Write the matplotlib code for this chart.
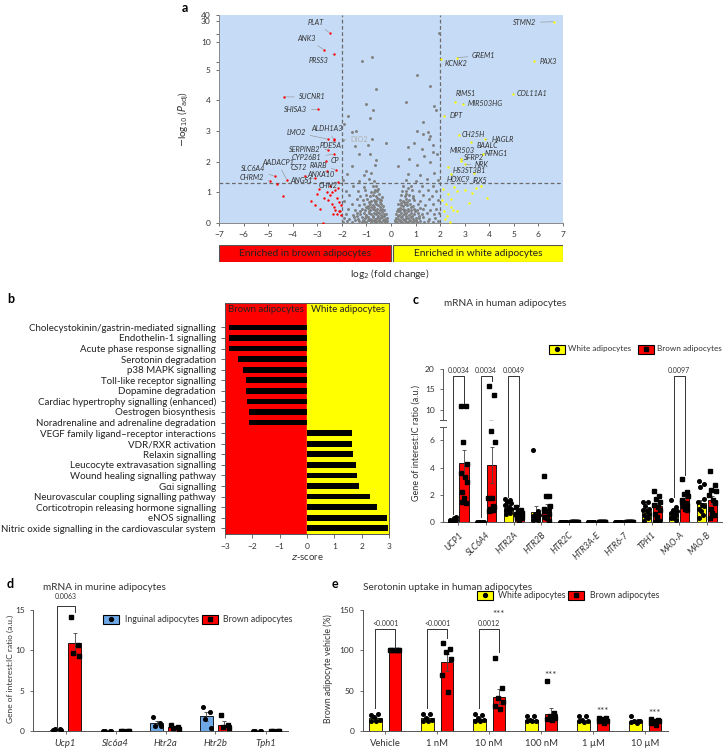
import numpy as np
import matplotlib
matplotlib.use('Agg')
import matplotlib.pyplot as plt
from matplotlib.patches import Rectangle
from matplotlib.lines import Line2D

plt.rcParams['font.family'] = ['Lato', 'DejaVu Sans']
plt.rcParams['axes.unicode_minus'] = True

W, H = 723, 749
RED = '#ff0000'
YEL = '#ffff00'
BLUE = '#6ea8e6'
TXT = '#333333'

# ---------------- panel a: volcano ----------------
brown_genes = ['PLAT', 'ANK3', 'PRSS3', 'SUCNR1', 'SHISA3', 'LMO2', 'ALDH1A3', 'PDE5A',
               'SERPINB2', 'CYP26B1', 'CP', 'RARB', 'CST2', 'ANXA10', 'ANGS1', 'CHN2',
               'SLC6A4', 'AADACP1', 'CHRM2']
brown_fc = [-2.50, -2.73, -2.30, -4.34, -2.97, -2.55, -2.33, -2.33, -2.55, -2.31, -2.64,
            -2.25, -3.50, -2.61, -3.10, -2.14, -4.72, -4.24, -4.93]
brown_p = [18.9, 8.66, 7.9, 4.11, 3.70, 2.73, 2.73, 2.70, 2.39, 2.24, 2.02, 1.74, 1.52,
           1.70, 1.47, 1.34, 1.52, 1.41, 1.37]
brown_lbl = [(-3.06, 29.0), (-3.43, 13.5), (-2.95, 6.6), (-3.22, 4.11), (-3.88, 3.70),
             (-3.86, 2.95), (-2.61, 3.08), (-2.44, 2.54), (-3.50, 2.39), (-3.43, 2.14),
             (-2.27, 2.03), (-2.95, 1.89), (-3.77, 1.80), (-2.86, 1.59), (-3.65, 1.38),
             (-2.54, 1.21), (-5.63, 1.77), (-4.61, 1.98), (-5.67, 1.47)]
brown_other_fc = [-4.63, -4.38, -2.93, -3.25, -3.09, -2.88, -2.78, -2.72, -2.56, -2.48, -2.41,
                  -2.34, -2.27, -2.20, -2.12, -2.10, -2.41, -2.61, -2.27, -2.20, -2.08, -3.0,
                  -2.05, -2.15, -2.5, -2.35, -2.02]
brown_other_p = [1.28, 0.87, 1.12, 0.71, 0.58, 0.47, 0.01, 0.83, 0.74, 0.90, 0.63, 0.52, 0.41,
                 0.28, 0.39, 0.68, 1.0, 1.01, 1.06, 0.8, 0.4, 0.95, 0.25, 1.15, 1.2, 0.3, 0.6]

white_genes = ['STMN2', 'GREM1', 'KCNK2', 'PAX3', 'RIMS1', 'MIR503HG', 'COL11A1', 'DPT',
               'CH25H', 'HAGLR', 'BAALC', 'MIR503', 'NTNG1', 'SFRP2', 'NRK', 'HS3ST3B1',
               'HOXC9', 'IRX5']
white_fc = [6.64, 2.67, 2.04, 5.82, 2.60, 2.94, 4.97, 2.15, 2.76, 3.82, 3.26, 2.83, 3.76,
            2.86, 3.00, 2.31, 2.45, 3.37]
white_p = [29.4, 7.2, 7.0, 6.52, 3.95, 3.89, 4.21, 3.50, 2.88, 2.73, 2.63, 2.07, 2.26, 2.03,
           1.91, 1.83, 1.59, 1.63]
white_lbl = [(5.44, 28.7), (3.78, 7.56), (2.63, 6.1), (6.39, 6.52), (3.03, 4.21),
             (3.85, 3.89), (5.73, 4.21), (2.65, 3.50), (3.35, 2.88), (4.54, 2.73),
             (3.92, 2.54), (2.91, 2.37), (4.30, 2.26), (3.36, 2.15), (3.70, 1.92),
             (3.20, 1.71), (2.73, 1.42), (3.64, 1.40)]
white_other_fc = [2.12, 2.31, 2.56, 2.67, 3.03, 3.31, 3.44, 3.65, 3.92, 3.17, 2.45, 2.45, 2.53,
                  2.67, 2.15, 2.18, 2.26, 2.42, 2.08, 2.22]
white_other_p = [1.10, 0.93, 1.17, 1.04, 1.09, 0.99, 1.14, 1.20, 0.83, 0.65, 0.78, 0.52, 0.43,
                 0.39, 0.39, 0.14, 0.22, 0.03, 0.76, 0.61]

dio2_fc, dio2_p = -1.95, 2.72

grey_pts = [
    (-1.95, 0.04), (-1.8, 0.08), (-1.6, 0.03), (-1.45, 0.09), (-1.3, 0.05), (-1.2, 0.02),
    (-1.1, 0.07), (-1.0, 0.04), (-0.9, 0.09), (-0.8, 0.03), (-0.7, 0.06), (-0.6, 0.02),
    (-0.5, 0.08), (-0.4, 0.04), (-0.3, 0.07), (-0.2, 0.03), (-0.15, 0.06),
    (-1.9, 0.17), (-1.7, 0.14), (-1.5, 0.19), (-1.35, 0.13), (-1.2, 0.18), (-1.05, 0.15),
    (-0.95, 0.2), (-0.85, 0.14), (-0.75, 0.18), (-0.65, 0.13), (-0.55, 0.17), (-0.45, 0.15),
    (-0.35, 0.19), (-0.25, 0.14), (-0.18, 0.16),
    (-1.85, 0.3), (-1.55, 0.27), (-1.4, 0.33), (-1.25, 0.29), (-1.1, 0.31), (-1.0, 0.27),
    (-0.9, 0.33), (-0.8, 0.28), (-0.7, 0.32), (-0.6, 0.29), (-0.5, 0.31), (-0.4, 0.27),
    (-0.3, 0.3), (-0.22, 0.28),
    (-1.75, 0.47), (-1.45, 0.43), (-1.2, 0.46), (-1.05, 0.42), (-0.95, 0.48), (-0.85, 0.44),
    (-0.75, 0.47), (-0.65, 0.43), (-0.55, 0.46), (-0.45, 0.44), (-0.35, 0.47), (-0.28, 0.42),
    (-1.6, 0.62), (-1.3, 0.58), (-1.1, 0.61), (-0.95, 0.57), (-0.85, 0.63), (-0.72, 0.59),
    (-0.62, 0.62), (-0.52, 0.58), (-0.42, 0.61), (-0.32, 0.57),
    (-1.9, 0.73), (-1.4, 0.77), (-1.15, 0.74), (-0.98, 0.78), (-0.82, 0.73), (-0.7, 0.76),
    (-0.6, 0.72), (-0.5, 0.77), (-0.4, 0.74),
    (-1.7, 0.9), (-1.25, 0.88), (-1.0, 0.92), (-0.85, 0.87), (-0.72, 0.91), (-0.6, 0.89),
    (-0.48, 0.93),
    (-1.85, 1.05), (-1.35, 1.03), (-1.05, 1.07), (-0.8, 1.02), (-0.65, 1.06), (-0.55, 1.04),
    (-1.55, 1.2), (-1.1, 1.18), (-0.75, 1.22), (-0.6, 1.19),
    (-1.95, 1.4), (-1.3, 1.38), (-0.9, 1.42), (-0.7, 1.37),
    (-1.8, 1.6), (-1.1, 1.58), (-0.8, 1.63),
    (-1.15, 0.1), (-1.02, 0.23), (-0.92, 0.09), (-0.88, 0.38), (-0.78, 0.1), (-0.73, 0.24),
    (-0.68, 0.52), (-0.63, 0.08), (-0.58, 0.37), (-0.53, 0.22), (-0.48, 0.1), (-0.43, 0.53),
    (-0.38, 0.35), (-0.33, 0.1), (-0.27, 0.22), (-0.24, 0.05), (-0.8, 0.53), (-0.9, 0.68),
    (-0.67, 0.68), (-0.57, 0.82), (-0.45, 0.68), (-0.37, 0.85), (-1.0, 0.52), (-1.25, 0.4),
    (-1.38, 0.22), (-0.7, 1.0), (-0.52, 1.12),
    (-1.6, 1.85), (-1.0, 1.7), (-0.65, 1.9), (-1.3, 2.25), (-0.87, 2.24), (-0.6, 2.05),
    (-1.45, 2.5), (-0.95, 2.55), (-0.2, 2.6), (-0.78, 2.75), (-1.41, 3.0), (-1.59, 2.97),
    (-1.93, 3.24), (-1.77, 3.48), (-0.87, 3.43), (-0.73, 3.67), (-1.0, 3.89), (-0.6, 4.36),
    (-1.16, 6.5), (-0.78, 7.3),
    (0.15, 0.05), (0.25, 0.02), (0.35, 0.07), (0.45, 0.03), (0.55, 0.08), (0.65, 0.04),
    (0.75, 0.06), (0.85, 0.02), (0.95, 0.07), (1.05, 0.04), (1.2, 0.08), (1.35, 0.03),
    (1.5, 0.06), (1.7, 0.04), (1.9, 0.07),
    (0.2, 0.17), (0.3, 0.14), (0.4, 0.18), (0.5, 0.13), (0.6, 0.17), (0.7, 0.15), (0.8, 0.19),
    (0.9, 0.14), (1.0, 0.17), (1.15, 0.15), (1.3, 0.18), (1.55, 0.14), (1.8, 0.16),
    (0.22, 0.3), (0.32, 0.27), (0.42, 0.32), (0.52, 0.28), (0.62, 0.31), (0.72, 0.27),
    (0.82, 0.33), (0.95, 0.29), (1.1, 0.31), (1.25, 0.28), (1.45, 0.32), (1.75, 0.29),
    (1.95, 0.31),
    (0.28, 0.46), (0.38, 0.43), (0.48, 0.47), (0.58, 0.44), (0.68, 0.46), (0.8, 0.42),
    (0.92, 0.47), (1.05, 0.44), (1.3, 0.46), (1.6, 0.43), (1.85, 0.47),
    (0.3, 0.61), (0.42, 0.58), (0.55, 0.62), (0.65, 0.59), (0.78, 0.61), (0.9, 0.57),
    (1.1, 0.62), (1.4, 0.58), (1.7, 0.61),
    (0.35, 0.76), (0.48, 0.73), (0.6, 0.77), (0.75, 0.74), (0.95, 0.76), (1.2, 0.73),
    (1.55, 0.77), (1.9, 0.74),
    (0.4, 0.9), (0.55, 0.88), (0.72, 0.92), (0.9, 0.89), (1.3, 0.91), (1.65, 0.88),
    (0.45, 1.05), (0.62, 1.03), (0.85, 1.07), (1.15, 1.04), (1.5, 1.06), (1.85, 1.03),
    (0.5, 1.2), (0.8, 1.22), (1.25, 1.19), (1.7, 1.21),
    (0.6, 1.4), (1.0, 1.38), (1.45, 1.42), (1.9, 1.39),
    (0.7, 1.6), (1.2, 1.58), (1.75, 1.62),
    (0.18, 0.1), (0.27, 0.23), (0.33, 0.38), (0.37, 0.1), (0.43, 0.24), (0.47, 0.55),
    (0.53, 0.38), (0.57, 0.1), (0.63, 0.24), (0.67, 0.68), (0.7, 0.38), (0.77, 0.1),
    (0.83, 0.52), (0.87, 0.24), (0.97, 0.4), (1.02, 0.1), (1.12, 0.23), (1.2, 0.5),
    (0.52, 0.7), (0.42, 0.65), (0.6, 0.95), (0.35, 0.5), (0.25, 0.4), (0.88, 0.8), (0.7, 1.15),
    (0.3, 1.85), (1.05, 1.9), (1.6, 2.0), (0.75, 2.1), (1.35, 2.2), (0.68, 2.48), (1.25, 2.4),
    (1.7, 2.3), (1.88, 2.25), (0.95, 2.6), (1.55, 2.75), (1.06, 3.0), (1.3, 2.9), (1.5, 2.95),
    (1.6, 2.85), (1.72, 2.55), (0.61, 3.95), (1.77, 3.8), (1.85, 3.67), (1.06, 4.84),
    (1.6, 4.46), (1.95, 19.0), (1.3, 3.3),
]

# ---------------- panel b: pathways ----------------
b_pathways = ['Cholecystokinin/gastrin-mediated signalling', 'Endothelin-1 signalling',
              'Acute phase response signalling', 'Serotonin degradation', 'p38 MAPK signalling',
              'Toll-like receptor signalling', 'Dopamine degradation',
              'Cardiac hypertrophy signalling (enhanced)', 'Oestrogen biosynthesis',
              'Noradrenaline and adrenaline degradation', 'VEGF family ligand\u2013receptor interactions',
              'VDR/RXR activation', 'Relaxin signalling', 'Leucocyte extravasation signalling',
              'Wound healing signalling pathway', 'G\u03b1i signalling',
              'Neurovascular coupling signalling pathway', 'Corticotropin releasing hormone signalling',
              'eNOS signalling', 'Nitric oxide signalling in the cardiovascular system']
b_z = [-2.84, -2.84, -2.84, -2.51, -2.35, -2.24, -2.24, -2.18, -2.14, -2.14,
       1.65, 1.65, 1.69, 1.81, 1.84, 1.92, 2.30, 2.55, 2.92, 2.98]

# ---------------- panel c: human mRNA ----------------
c_genes = ['UCP1', 'SLC6A4', 'HTR2A', 'HTR2B', 'HTR2C', 'HTR3A-E', 'HTR6-7', 'TPH1', 'MAO-A', 'MAO-B']
c_white_mean = [0.12, 0.02, 1.02, 0.73, 0.02, 0.02, 0.02, 0.83, 0.58, 1.39]
c_white_sem = [0.04, 0.005, 0.12, 0.45, 0.0, 0.0, 0.0, 0.15, 0.13, 0.27]
c_brown_mean = [4.35, 4.2, 0.46, 1.05, 0.02, 0.02, 0.02, 1.2, 1.75, 1.63]
c_brown_sem = [0.95, 1.35, 0.09, 0.3, 0.0, 0.0, 0.0, 0.22, 0.21, 0.3]
c_white_pts = [
    [0.05, 0.1, 0.1, 0.15, 0.2, 0.3, 0.4, 0.05, 0.1, 0.08, 0.12],
    [0.02, 0.02, 0.02, 0.02, 0.02, 0.02, 0.02, 0.02, 0.02, 0.02, 0.02],
    [1.7, 1.6, 1.5, 1.4, 1.3, 1.1, 1.0, 0.9, 0.8, 0.7, 0.6],
    [5.3, 0.8, 0.6, 0.5, 0.45, 0.4, 0.35, 0.3, 0.25, 0.2, 0.15],
    [0.02] * 11, [0.02] * 11, [0.02] * 11,
    [1.5, 1.5, 1.2, 1.0, 0.9, 0.8, 0.6, 0.5, 0.4, 0.3, 0.1],
    [1.6, 1.1, 0.9, 0.8, 0.7, 0.6, 0.5, 0.4, 0.3, 0.2, 0.3],
    [3.0, 2.8, 2.6, 1.7, 1.5, 1.3, 1.2, 1.0, 0.8, 0.5, 0.3],
]
c_brown_pts = [
    [11.0, 11.0, 5.9, 4.3, 3.63, 3.34, 2.97, 2.24, 1.75, 1.43, 1.45],
    [15.9, 13.7, 6.68, 5.85, 1.8, 1.8, 1.1, 1.0, 0.9, 0.9, 0.8, 1.2],
    [1.1, 0.9, 0.8, 0.7, 0.6, 0.5, 0.4, 0.3, 0.2, 0.3, 0.4],
    [3.4, 1.9, 1.9, 1.2, 1.0, 0.8, 0.6, 0.4, 0.3, 0.1, 0.8],
    [0.02] * 11, [0.02] * 11, [0.02] * 11,
    [2.3, 1.9, 1.7, 1.5, 1.3, 1.1, 0.9, 0.6, 0.4, 0.1, 0.0],
    [3.2, 2.2, 2.1, 1.9, 1.6, 1.4, 1.3, 1.2, 1.0, 0.9, 1.5],
    [3.75, 2.7, 2.4, 2.3, 2.0, 1.6, 1.4, 1.0, 0.7, 0.5, 0.3],
]
c_sig = [(0, '0.0034', 0.6, 11.7), (1, '0.0034', 0.4, 17.0), (2, '0.0049', 1.85, 1.2),
         (8, '0.0097', 1.85, 3.5)]
c_sig_top = 18.2

# ---------------- panel d: murine mRNA ----------------
d_genes = ['Ucp1', 'Slc6a4', 'Htr2a', 'Htr2b', 'Tph1']
d_ing_mean = [0.15, 0.02, 1.0, 1.8, 0.02]
d_ing_sem = [0.03, 0.0, 0.3, 0.6, 0.0]
d_brown_mean = [10.9, 0.02, 0.5, 0.8, 0.02]
d_brown_sem = [1.2, 0.0, 0.1, 0.4, 0.0]
d_ing_pts = [[0.1, 0.2, 0.2, 0.15], [0.02] * 4, [1.7, 1.0, 0.6, 0.6], [3.0, 2.4, 1.5, 0.4], [0.02] * 4]
d_brown_pts = [[14.1, 10.7, 9.7, 9.3], [0.02] * 4, [0.7, 0.5, 0.4, 0.3], [2.0, 0.8, 0.5, 0.4], [0.02] * 4]

# ---------------- panel e: serotonin uptake ----------------
e_doses = ['Vehicle', '1 nM', '10 nM', '100 nM', '1 \u00b5M', '10 \u00b5M']
e_white_mean = [15.5, 15.5, 14.9, 13.6, 12.5, 11.5]
e_white_sem = [1.5, 1.5, 1.5, 1.2, 1.1, 1.2]
e_brown_mean = [100, 85, 42.5, 21, 13, 11]
e_brown_sem = [0.5, 10, 9, 8, 1.2, 1.2]
e_white_pts = [[20, 21, 17, 14, 12, 13], [21, 21, 16, 14, 13, 13], [21, 20, 16, 14, 12, 13],
               [19, 19, 14, 13, 13, 12], [18, 18, 14, 13, 12, 11], [18, 13, 12, 12, 11, 10]]
e_brown_pts = [[100, 100, 100, 100, 100, 100], [108.6, 101.2, 97.5, 88.8, 69.4, 47.9],
               [90.8, 53.7, 40.5, 36.3, 31, 26.8], [62.3, 21.9, 18.6, 16, 15, 14],
               [16, 16, 15, 13, 12, 10], [15, 14, 13, 12, 10, 8]]
e_sig = [(0, '<0.0001', 28, 103), (1, '<0.0001', 28, 115), (2, '0.0012', 28, 98)]
e_sig_top = 127
e_stars = [(2, 145), (3, 69), (4, 24), (5, 22)]

jit = [-0.3, 0.25, -0.1, 0.35, -0.35, 0.1, 0.3, -0.2, 0.0, 0.2, -0.25, 0.15]

fig = plt.figure(figsize=(W / 100, H / 100), dpi=100)


def fax(l, t, r, b):
    return fig.add_axes([l / W, 1 - b / H, (r - l) / W, (b - t) / H])


def to_fig(ax, x, y):
    return fig.transFigure.inverted().transform(ax.transData.transform((x, y)))


def style(ax, size=6):
    for s in ['top', 'right']:
        ax.spines[s].set_visible(False)
    for s in ['left', 'bottom']:
        ax.spines[s].set_color('#555555')
        ax.spines[s].set_linewidth(0.7)
    ax.tick_params(labelsize=size, colors='#555555', labelcolor=TXT, length=2.5, width=0.6)


def bracket(pts, text, tx, ty):
    xs = [p[0] for p in pts]
    ys = [p[1] for p in pts]
    fig.lines.append(Line2D(xs, ys, color='#333333', lw=0.7, transform=fig.transFigure))
    fig.text(tx, ty, text, fontsize=5, color=TXT, ha='center', va='bottom')


def grouped(ax, xs, means, sems, pts, color, marker, off, width):
    ax.bar(xs + off, means, width, color=color, edgecolor='black', lw=0.6, zorder=2)
    ax.errorbar(xs + off, means, yerr=sems, fmt='none', ecolor='#444444', elinewidth=0.6,
                capsize=1.5, capthick=0.6, zorder=3)
    for i, vals in enumerate(pts):
        jx = xs[i] + off + np.array(jit[:len(vals)]) * width
        ax.plot(jx, vals, ls='none', marker=marker, ms=2.6, color='black', zorder=4)


def legend_row(y, entries, size=6.3):
    for fill, marker, text, bl, tl in entries:
        fig.patches.append(Rectangle((bl / W, 1 - (y + 4.5) / H), 16 / W, 9 / H,
                                     facecolor=fill, edgecolor='black', lw=0.8,
                                     transform=fig.transFigure))
        fig.lines.append(Line2D([(bl + 8) / W], [1 - y / H], marker=marker, ms=2.8,
                                color='black', ls='none', transform=fig.transFigure))
        fig.text(tl / W, 1 - y / H, text, fontsize=size, color=TXT, va='center', ha='left')


# ===== panel a =====
a_in = [0, 5, 10, 30, 40]
a_out = [0, 5, 5.89, 6.58, 6.78]


def a_fwd(y):
    y = np.asarray(y, float)
    t = np.interp(y, a_in, a_out)
    t = np.where(y < 0, y, t)
    return np.where(y > 40, 6.78 + (y - 40) * 0.02, t)


def a_inv(t):
    t = np.asarray(t, float)
    y = np.interp(t, a_out, a_in)
    y = np.where(t < 0, t, y)
    return np.where(t > 6.78, 40 + (t - 6.78) / 0.02, y)


axa = fax(219, 15, 563, 223)
axa.set_yscale('function', functions=(a_fwd, a_inv))
axa.set_xlim(-7, 7)
axa.set_ylim(0, 40)
axa.set_facecolor('#c6dcf6')
style(axa, 6)
axa.spines['bottom'].set_color('#888888')
axa.spines['left'].set_color('#888888')
axa.set_xticks(range(-7, 8))
axa.set_yticks([0, 1, 2, 3, 4, 5, 10, 30, 40])
axa.set_yticklabels(['0', '1', '2', '3', '4', '5', '10', '30', '40'])
axa.set_yticks([6.4, 18.25], minor=True)
axa.tick_params(which='minor', length=2.5, width=0.6, colors='#555555')
gp = np.array(grey_pts)
axa.scatter(gp[:, 0], gp[:, 1], s=4.5, color='#808080', lw=0, zorder=2)
axa.scatter([dio2_fc], [dio2_p], s=3, color='#808080', lw=0, zorder=2)
axa.scatter(brown_other_fc, brown_other_p, s=3, color=RED, lw=0, zorder=3)
axa.scatter(brown_fc, brown_p, s=3, color=RED, lw=0, zorder=3)
axa.scatter(white_other_fc, white_other_p, s=3, color=YEL, lw=0, zorder=3)
axa.scatter(white_fc, white_p, s=3, color=YEL, lw=0, zorder=3)
for v in (-2, 2):
    axa.axvline(v, color='#6a6a6a', lw=0.9, dashes=(3, 2), zorder=1)
axa.axhline(1.3, color='#6a6a6a', lw=0.9, dashes=(3, 2), zorder=1)
for g, x, y, lp in list(zip(brown_genes, brown_fc, brown_p, brown_lbl)) + \
        list(zip(white_genes, white_fc, white_p, white_lbl)):
    axa.annotate(g, xy=(x, y), xytext=lp, fontsize=5.2, style='italic', color=TXT,
                 ha='center', va='center',
                 arrowprops=dict(arrowstyle='-', color='#8a8a8a', lw=0.4,
                                 shrinkA=1, shrinkB=0.5))
axa.annotate('DIO2', xy=(dio2_fc, dio2_p), xytext=(-1.28, 2.72), fontsize=5.2, color='#b0b0b0',
             ha='center', va='center',
             arrowprops=dict(arrowstyle='-', color='#b0b0b0', lw=0.4, shrinkA=1, shrinkB=0.5))
axa.set_ylabel(r'$-$log$_{10}$ ($P_{\rm adj}$)', fontsize=7, color=TXT, labelpad=7)

axab = fax(219, 245, 563, 262)
axab.set_xlim(-7, 7)
axab.set_ylim(0, 1)
axab.axis('off')
axab.add_patch(Rectangle((-7, 0), 7, 1, facecolor=RED, edgecolor='#555555', lw=0.8))
axab.add_patch(Rectangle((0.1, 0), 6.9, 1, facecolor=YEL, edgecolor='#555555', lw=0.8))
axab.text(-3.5, 0.5, 'Enriched in brown adipocytes', ha='center', va='center', fontsize=7.3, color='#222')
axab.text(3.55, 0.5, 'Enriched in white adipocytes', ha='center', va='center', fontsize=7.3, color='#222')
fig.text(390 / W, 1 - 274 / H, r'log$_2$ (fold change)', ha='center', va='center', fontsize=7.3, color=TXT)

# ===== panel b =====
axb = fax(225, 303, 389, 534)
axb.axvspan(-3, 0, color=RED, zorder=0)
axb.axvspan(0, 3, color=YEL, zorder=0)
yb = np.arange(len(b_pathways))
axb.barh(yb, b_z, height=0.55, color='black', zorder=2)
axb.set_xlim(-3, 3)
axb.set_ylim(19.54, -2.31)
axb.set_yticks(yb)
axb.set_yticklabels(b_pathways)
axb.set_xticks(range(-3, 4))
for s in axb.spines.values():
    s.set_color('#555555')
    s.set_linewidth(0.7)
axb.tick_params(labelsize=7.0, colors='#555555', labelcolor='#222222', length=3, width=0.6)
axb.tick_params(axis='x', labelsize=6, labelcolor=TXT)
axb.text(-1.5, -1.68, 'Brown adipocytes', ha='center', va='center', fontsize=6.9, color='#222')
axb.text(1.5, -1.68, 'White adipocytes', ha='center', va='center', fontsize=6.9, color='#222')
axb.set_xlabel(r'$\it{z}$-score', fontsize=6.8, color=TXT, labelpad=2)

# ===== panel c =====
xc = np.arange(len(c_genes))
axcu = fax(443, 369, 722, 420)
axcl = fax(443, 426.7, 722, 522.3)
for ax in (axcu, axcl):
    style(ax, 6)
    ax.set_xlim(-0.56, 9.55)
    grouped(ax, xc, c_white_mean, c_white_sem, c_white_pts, YEL, 'o', -0.2, 0.33)
    grouped(ax, xc, c_brown_mean, c_brown_sem, c_brown_pts, RED, 's', 0.2, 0.33)
axcu.set_ylim(7.5, 20)
axcu.set_yticks([10, 15, 20])
axcu.spines['bottom'].set_visible(False)
axcu.tick_params(axis='x', bottom=False, labelbottom=False)
axcl.set_ylim(0, 7)
axcl.set_yticks([0, 2, 4, 6])
axcl.set_xticks(xc)
axcl.set_xticklabels(c_genes, rotation=45, ha='right', rotation_mode='anchor', style='italic', fontsize=6.3)
axcu.plot([-0.012, 0.012], [0, 0], transform=axcu.transAxes, color='#555555', lw=0.7, clip_on=False)
axcl.plot([-0.012, 0.012], [1, 1], transform=axcl.transAxes, color='#555555', lw=0.7, clip_on=False)
fig.text(416 / W, 1 - 443 / H, 'Gene of interest:IC ratio (a.u.)', rotation=90, ha='center',
         va='center', fontsize=6.5, color=TXT)


def cpt(x, v):
    return to_fig(axcu if v > 7.25 else axcl, x, v)


for i, txt, yl, yr in c_sig:
    p = [cpt(i - 0.2, yl), cpt(i - 0.2, c_sig_top), cpt(i + 0.2, c_sig_top), cpt(i + 0.2, yr)]
    t = cpt(i, c_sig_top + 0.5)
    bracket(p, txt, t[0], t[1])

legend_row(349, [(YEL, 'o', 'White adipocytes', 549, 568), (RED, 's', 'Brown adipocytes', 638, 657)], 5.9)

# ===== panel d =====
xd = np.arange(len(d_genes))
axd = fax(33, 610, 288, 731)
style(axd, 6)
axd.set_xlim(-0.65, 4.45)
axd.set_ylim(0, 15)
axd.set_yticks([0, 5, 10, 15])
grouped(axd, xd, d_ing_mean, d_ing_sem, d_ing_pts, BLUE, 'o', -0.18, 0.25)
grouped(axd, xd, d_brown_mean, d_brown_sem, d_brown_pts, RED, 's', 0.18, 0.25)
axd.set_xticks(xd)
axd.set_xticklabels(d_genes, style='italic', fontsize=6.8)
p = [to_fig(axd, -0.18, 0.5), to_fig(axd, -0.18, 15.5), to_fig(axd, 0.18, 15.5), to_fig(axd, 0.18, 14.7)]
t = to_fig(axd, 0, 16.2)
bracket(p, '0.0063', t[0], t[1])
fig.text(10 / W, 1 - 669 / H, 'Gene of interest:IC ratio (a.u.)', rotation=90, ha='center',
         va='center', fontsize=6.0, color=TXT)
legend_row(619, [(BLUE, 'o', 'Inguinal adipocytes', 103, 125), (RED, 's', 'Brown adipocytes', 202, 223)])

# ===== panel e =====
xe = np.arange(len(e_doses))
axe = fax(362.7, 610, 668, 731)
style(axe, 6)
axe.set_xlim(-0.43, 5.44)
axe.set_ylim(0, 150)
axe.set_yticks([0, 50, 100, 150])
grouped(axe, xe, e_white_mean, e_white_sem, e_white_pts, YEL, 'o', -0.19, 0.245)
grouped(axe, xe, e_brown_mean, e_brown_sem, e_brown_pts, RED, 's', 0.19, 0.245)
axe.set_xticks(xe)
axe.set_xticklabels(e_doses, fontsize=6.8)
for i, txt, yl, yr in e_sig:
    p = [to_fig(axe, i - 0.19, yl), to_fig(axe, i - 0.19, e_sig_top),
         to_fig(axe, i + 0.19, e_sig_top), to_fig(axe, i + 0.19, yr)]
    t = to_fig(axe, i, e_sig_top + 2.5)
    bracket(p, txt, t[0], t[1])
for i, y in e_stars:
    axe.text(i + 0.19, y, '***', ha='center', va='center', fontsize=7, color=TXT, clip_on=False)
fig.text(328 / W, 1 - 669 / H, 'Brown adipocyte vehicle (%)', rotation=90, ha='center',
         va='center', fontsize=6.3, color=TXT)
legend_row(595, [(YEL, 'o', 'White adipocytes', 477, 498), (RED, 's', 'Brown adipocytes', 568, 590)])

# ===== titles and panel letters =====
for x, y, s in [(182, 8, 'a'), (7, 299, 'b'), (413, 300, 'c'), (7, 584, 'd'), (332, 584, 'e')]:
    fig.text(x / W, 1 - y / H, s, fontsize=9, fontweight='bold', ha='left', va='center')
fig.text(444 / W, 1 - 304 / H, 'mRNA in human adipocytes', fontsize=7.2, color=TXT, va='center')
fig.text(43 / W, 1 - 587 / H, 'mRNA in murine adipocytes', fontsize=7.2, color=TXT, va='center')
fig.text(363 / W, 1 - 587 / H, 'Serotonin uptake in human adipocytes', fontsize=7.2, color=TXT, va='center')

fig.savefig('out.png', dpi=100)
